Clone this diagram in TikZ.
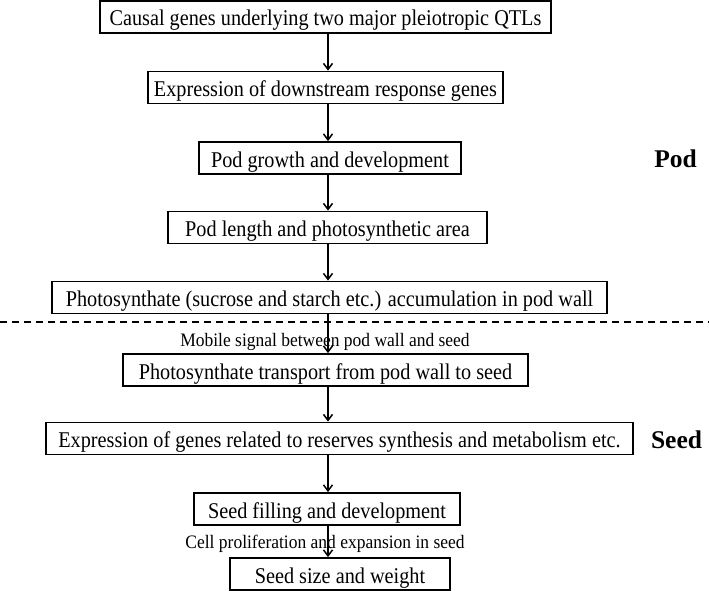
\documentclass[tikz,border=0pt]{standalone}
\usepackage{fontspec}
\setmainfont{Liberation Serif}
\newfontfamily\narrowserif[FakeStretch=0.9]{Liberation Serif}
\newfontfamily\labelserif[FakeStretch=0.92]{Liberation Serif}
\usetikzlibrary{arrows.meta}
\begin{document}
\begin{tikzpicture}[x=1pt,y=-1pt,
  stepbox/.style={draw,line width=1.8pt,inner sep=0pt,minimum height=32pt,text height=18pt,text depth=0pt,font=\narrowserif\fontsize{22.5}{25}\selectfont},
  flow/.style={line width=1.5pt,-{Straight Barb[length=6pt,width=9pt,line width=1.5pt]}},
  sidelabel/.style={font=\labelserif\fontsize{19}{21}\selectfont,inner sep=0pt,anchor=base},
  region/.style={font=\fontsize{25.5}{28}\selectfont\bfseries,inner sep=0pt,anchor=base}]
\useasboundingbox (0,0) rectangle (709,591);
\fill[white] (0,0) rectangle (709,591);
\coordinate (axis) at (328,0);
\node[stepbox,minimum width=451pt] (b1) at (325.5,17) {Causal genes underlying two major pleiotropic QTLs};
\node[stepbox,minimum width=355pt] (b2) at (325.5,87.5) {Expression of downstream response genes};
\node[stepbox,minimum width=262pt] (b3) at (330,158) {Pod growth and development};
\node[stepbox,minimum width=319pt] (b4) at (327.5,227.5) {Pod length and photosynthetic area};
\node[stepbox,minimum width=555pt] (b5) at (329.5,297.5) {Photosynthate (sucrose and starch etc.) accumulation in pod wall};
\node[stepbox,minimum width=405pt] (b6) at (325.5,370) {Photosynthate transport from pod wall to seed};
\node[stepbox,minimum width=587pt] (b7) at (339.5,438.5) {Expression of genes related to reserves synthesis and metabolism etc.};
\node[stepbox,minimum width=266pt] (b8) at (327,509) {Seed filling and development};
\node[stepbox,minimum width=220pt] (b9) at (340,574) {Seed size and weight};
\node[sidelabel] (l1) at (325,346) {Mobile signal between pod wall and seed};
\node[sidelabel] (l2) at (325,548) {Cell proliferation and expansion in seed};
\node[region] (pod) at (675.5,167) {Pod};
\node[region] (seed) at (676.5,448) {Seed};
\coordinate (dl) at (0,322);
\coordinate (dr) at (709,322);
\draw[line width=1.8pt,dash pattern=on 7pt off 5pt] (dl) -- (dr);
\foreach \a/\b in {b1/b2,b2/b3,b3/b4,b4/b5,b5/b6,b6/b7,b7/b8,b8/b9}
  \draw[flow] (\a.south -| axis) -- (\b.north -| axis);
\end{tikzpicture}
\end{document}
